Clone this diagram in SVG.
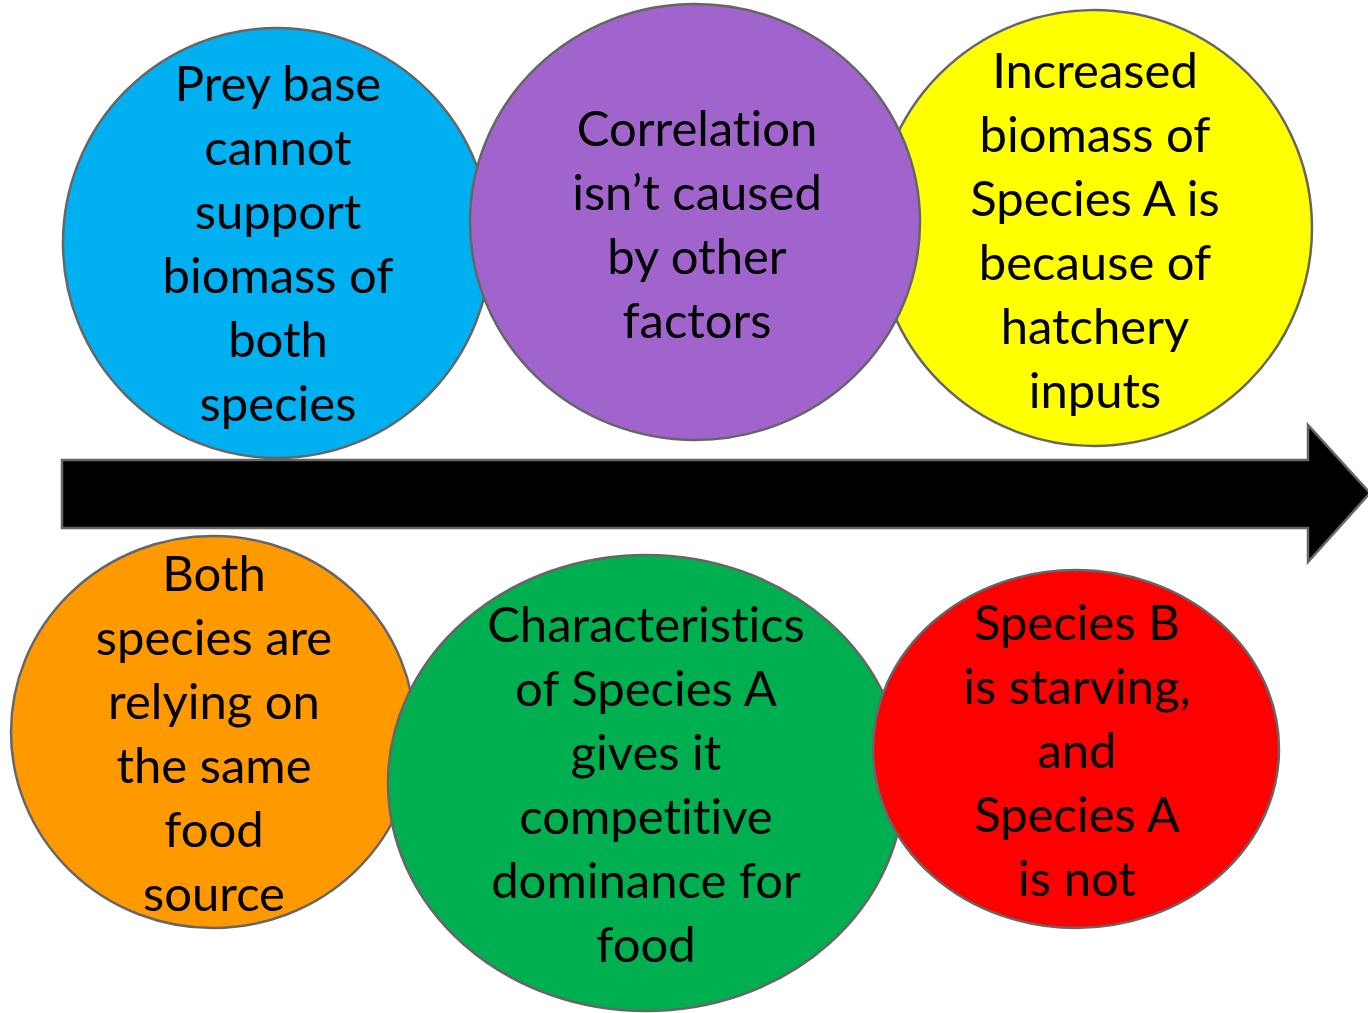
<svg xmlns="http://www.w3.org/2000/svg" width="1368" height="1013" viewBox="0 0 1368 1013">
<style>
.c{stroke:#666666;stroke-width:2.5}
text{font-family:Lato,"Open Sans",sans-serif;font-size:49px;fill:#000;text-anchor:middle;font-variant-ligatures:none}
</style>
<rect width="1368" height="1013" fill="#fff"/>
<g id="connectors">
<path d="M62,460 H1308 V425 L1370,493 L1308,562 V528 H62 Z" fill="#000" stroke="#666666" stroke-width="2.5"/>
</g>
<g id="blue">
<ellipse class="c" cx="277" cy="243" rx="214" ry="215" fill="#00B0F0"/>
<text><tspan x="278" y="101">Prey base</tspan><tspan x="278" y="165">cannot</tspan><tspan x="278" y="229">support</tspan><tspan x="278" y="293">biomass of</tspan><tspan x="278" y="357">both</tspan><tspan x="278" y="421">species</tspan></text>
</g>
<g id="yellow">
<ellipse class="c" cx="1094" cy="228" rx="218" ry="218" fill="#FFFF00"/>
<text><tspan x="1095" y="88">Increased</tspan><tspan x="1095" y="152">biomass of</tspan><tspan x="1095" y="216">Species A is</tspan><tspan x="1095" y="280">because of</tspan><tspan x="1095" y="344">hatchery</tspan><tspan x="1095" y="408">inputs</tspan></text>
</g>
<g id="purple">
<ellipse class="c" cx="695" cy="222" rx="225" ry="218" fill="#A064CC"/>
<text><tspan x="697" y="146">Correlation</tspan><tspan x="697" y="210">isn’t caused</tspan><tspan x="697" y="274">by other</tspan><tspan x="697" y="338">factors</tspan></text>
</g>
<g id="orange">
<ellipse class="c" cx="213" cy="732" rx="202" ry="196" fill="#FF9900"/>
<text><tspan x="214" y="591">Both</tspan><tspan x="214" y="655">species are</tspan><tspan x="214" y="719">relying on</tspan><tspan x="214" y="783">the same</tspan><tspan x="214" y="847">food</tspan><tspan x="214" y="911">source</tspan></text>
</g>
<g id="green">
<ellipse class="c" cx="646" cy="783" rx="258" ry="228" fill="#00B050"/>
<text><tspan x="646" y="642">Characteristics</tspan><tspan x="646" y="706">of Species A</tspan><tspan x="646" y="770">gives it</tspan><tspan x="646" y="834">competitive</tspan><tspan x="646" y="898">dominance for</tspan><tspan x="646" y="962">food</tspan></text>
</g>
<g id="red">
<ellipse class="c" cx="1076" cy="749" rx="203" ry="179" fill="#FF0000"/>
<text><tspan x="1077" y="640">Species B</tspan><tspan x="1077" y="704">is starving,</tspan><tspan x="1077" y="768">and</tspan><tspan x="1077" y="832">Species A</tspan><tspan x="1077" y="896">is not</tspan></text>
</g>
</svg>
